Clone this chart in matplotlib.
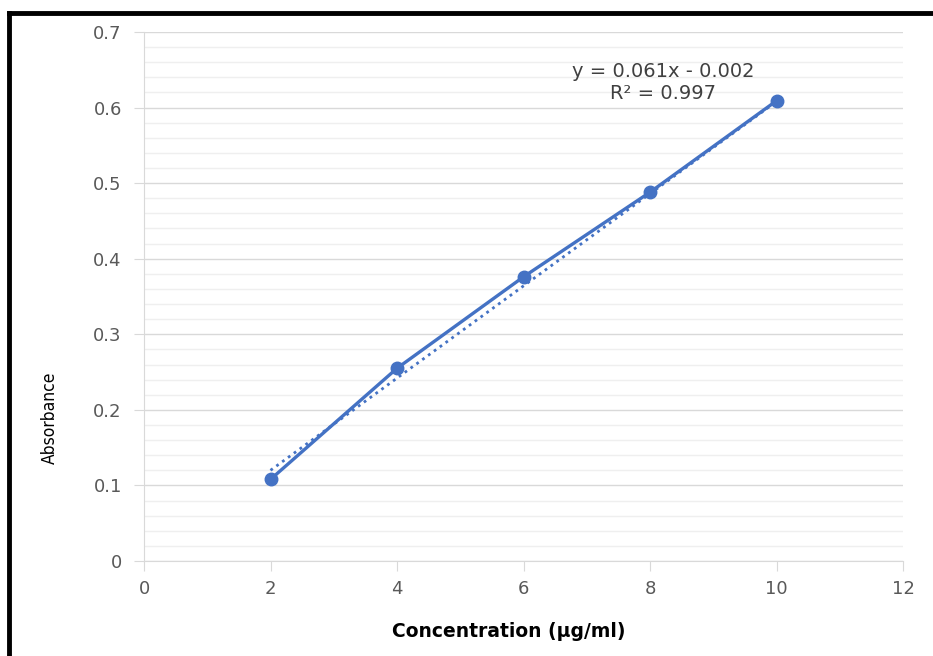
import numpy as np
import matplotlib
matplotlib.use("Agg")
import matplotlib.pyplot as plt
from matplotlib.lines import Line2D
from matplotlib.ticker import MultipleLocator

plt.rcParams['font.family'] = ['DejaVu Sans']

# data
conc = [2, 4, 6, 8, 10]
absorb = [0.108, 0.255, 0.376, 0.488, 0.609]
slope, intercept = 0.061, -0.002
r2 = 0.997

BLUE = '#4472C4'
GREY_TXT = '#595959'

fig = plt.figure(figsize=(9.33, 6.56), dpi=100)
fig.patch.set_facecolor('white')
ax = fig.add_axes([144/933, 1 - 561/656, (903 - 144)/933, (561 - 32)/656])

# trendline (dotted), from the displayed equation
xt = np.array([conc[0], conc[-1]])
ax.plot(xt, slope * xt + intercept, ls=(0, (1, 1.6)), color=BLUE, lw=2, zorder=3)
ax.plot(conc, absorb, color=BLUE, lw=2.4, marker='o', ms=9, zorder=4)

ax.set_xlim(0, 12)
ax.set_ylim(0, 0.7)
ax.xaxis.set_major_locator(MultipleLocator(2))
ax.yaxis.set_minor_locator(MultipleLocator(0.02))
ax.set_yticks(np.arange(0, 0.71, 0.1))
ax.set_yticklabels(['0', '0.1', '0.2', '0.3', '0.4', '0.5', '0.6', '0.7'])

ax.grid(axis='y', which='major', color='#d9d9d9', lw=1)
ax.grid(axis='y', which='minor', color='#efefef', lw=1)
ax.set_axisbelow(True)
for s in ('top', 'right'):
    ax.spines[s].set_visible(False)
for s in ('left', 'bottom'):
    ax.spines[s].set_color('#d9d9d9')
ax.tick_params(which='major', length=7, color='#d9d9d9', labelcolor=GREY_TXT,
               labelsize=13, pad=7)
ax.tick_params(axis='y', pad=9)
ax.tick_params(which='minor', length=0)

ax.set_xlabel('Concentration (µg/ml)', fontsize=13.5, fontweight='bold',
              color='black')
ax.xaxis.set_label_coords(0.48, -0.115)
ax.set_ylabel('Absorbance', fontsize=12.5, fontstretch='condensed',
              color='black')
ax.yaxis.set_label_coords(-0.112, 0.27)

ax.text(0.684, 0.944, f'y = {slope}x - {abs(intercept):.3f}\nR² = {r2}',
        transform=ax.transAxes, ha='center', va='top', fontsize=14,
        color='#404040', linespacing=1.22)

# black frame around the picture (top and left edges)
fig.add_artist(Line2D([9/933, 1], [1 - 13/656, 1 - 13/656], color='black', lw=3.5,
                      transform=fig.transFigure))
fig.add_artist(Line2D([9/933, 9/933], [0, 1 - 13/656], color='black', lw=3.5,
                      transform=fig.transFigure))

fig.savefig('out.png', dpi=100, facecolor='white')
